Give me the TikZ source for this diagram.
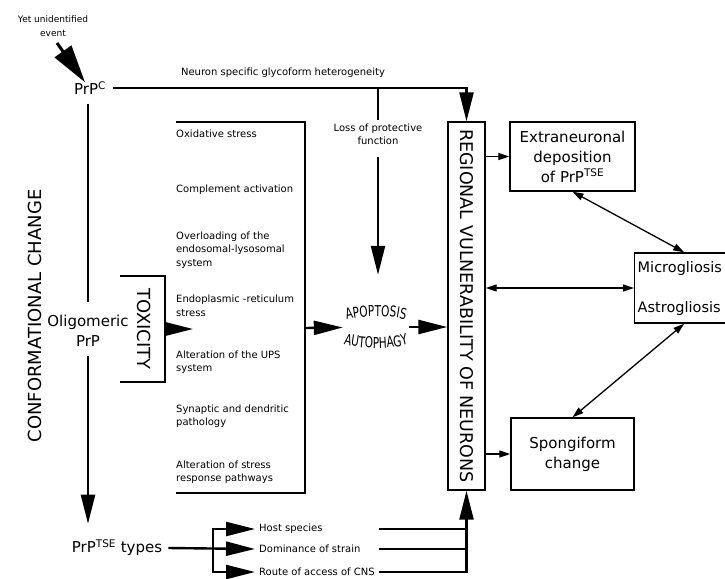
\documentclass[tikz,border=0pt]{standalone}
\usepackage{graphicx}
\usepackage{fontspec}
\setmainfont{DejaVu Sans}
\newfontfamily\narrowfont[FakeStretch=0.7]{DejaVu Sans}
\usetikzlibrary{arrows.meta,calc,decorations.text}

\begin{document}
\begin{tikzpicture}[x=1pt,y=-1pt,
	line/.style={line width=2.4pt},
	arr/.style={line width=2.4pt,-{Triangle[length=29pt,width=14pt]}},
	thin arr/.style={line width=1.3pt,-{Triangle[length=11pt,width=7pt]}},
	both arr/.style={line width=1.3pt,{Triangle[length=11pt,width=7pt]}-{Triangle[length=11pt,width=7pt]}},
	box/.style={draw,line width=1.4pt,align=center,font=\fontsize{15}{20}\selectfont},
	big/.style={font=\fontsize{15}{20}\selectfont,align=center},
	small/.style={font=\fontsize{10}{13.5}\selectfont,align=left,anchor=west,inner sep=0pt}]
	\clip (0,0) rectangle (725,578);

	% left column
	\node[font=\fontsize{9}{14}\selectfont,align=center] (ev) at (53,26) {Yet unidentified\\event};
	\node[big,inner sep=7pt] (prpc) at (90,88) {PrP\textsuperscript{C}};
	\node[big] (olig) at (88,331) {Oligomeric\\PrP};
	\node[big,inner sep=6pt] (tse) at (117,548) {PrP\textsuperscript{TSE} types};
	\node[font=\fontsize{18}{18}\selectfont] (conf) at (35,316) {\rotatebox{90}{CONFORMATIONAL CHANGE}};

	\draw[line width=3pt,-{Triangle[length=38pt,width=20pt]}] ([xshift=4pt,yshift=-3pt]ev.south) -- ([xshift=-5pt,yshift=-8pt]prpc.north);
	\draw[line,shorten <=2pt,shorten >=10pt] (olig.north |- prpc.south) -- (olig.north);
	\draw[arr,shorten <=6pt,shorten >=10pt] (olig.south) -- (olig.south |- tse.north);

	% toxicity
	\node[font=\fontsize{18}{18}\selectfont] (toxt) at (144,329) {\rotatebox{-90}{TOXICITY}};
	\draw[line] (120,276) -| (165,382) -- (120,382);
	\coordinate (tox) at (165,329);
	\coordinate (toxend) at (193,329);
	\draw[arr] (tox) -- (toxend);

	% mechanisms
	\node[small] (ox) at (176,134) {Oxidative stress};
	\node[small] (comp) at (176,190) {Complement activation};
	\node[small] (over) at (176,250) {Overloading of the\\endosomal-lysosomal\\system};
	\node[small] (er) at (176,306) {Endoplasmic -reticulum\\stress};
	\node[small] (ups) at (176,362) {Alteration of the UPS\\system};
	\node[small] (syn) at (176,416) {Synaptic and dendritic\\pathology};
	\node[small] (resp) at (176,472) {Alteration of stress\\response pathways};
	\draw[line] (176,122) -| (305,493) -- (176,493);
	\coordinate (fac) at (305,328);

	% apoptosis / autophagy
	\node[minimum width=66pt,minimum height=44pt] (apo) at (376,327) {};
	\path[decorate,decoration={text along path,text align=center,
		text={|\narrowfont\fontsize{15}{15}\selectfont|APOPTOSIS}}]
		([xshift=-6pt,yshift=4pt]apo.west) .. controls +(20pt,9pt) and +(-20pt,9pt) .. ([xshift=6pt,yshift=4pt]apo.east);
	\path[decorate,decoration={text along path,text align=center,
		text={|\narrowfont\fontsize{15}{15}\selectfont|AUTOPHAGY}}]
		([xshift=-6pt,yshift=-15pt]apo.west) .. controls +(20pt,-8pt) and +(-20pt,-8pt) .. ([xshift=6pt,yshift=-15pt]apo.east);
	\draw[arr] (fac) -- (apo);

	% regional vulnerability
	\node[draw,line width=1.4pt,minimum width=37pt,minimum height=368pt,inner sep=0pt,
		font=\fontsize{17.5}{17.5}\selectfont] (reg) at (466.5,306) {\rotatebox{-90}{REGIONAL VULNERABILITY OF NEURONS}};
	\node[font=\fontsize{10}{12}\selectfont] (glyco) at (283,73) {Neuron specific glycoform heterogeneity};
	\node[font=\fontsize{10}{13}\selectfont,align=center] (loss) at (378,134) {Loss of protective\\function};
	\draw[arr] (prpc.east) -| (reg.north);
	\draw[line] (loss.north |- prpc.east) -- (loss.north);
	\draw[arr,shorten <=9pt,shorten >=30pt] (loss.south) -- (loss.south |- apo.north);
	\draw[arr] (apo.east) -- (apo.east -| reg.west);

	% outcomes
	\node[box,minimum height=70pt,anchor=west,align=left,text width=95pt,inner sep=3pt,
		font=\fontsize{14.5}{20}\selectfont] (micro) at (634,288) {Microgliosis\\[20pt]Astrogliosis};
	\node[box,minimum width=125pt,minimum height=69pt,inner sep=2pt] (ext) at (572.5,156.5) {Extraneuronal\\deposition\\of PrP\textsuperscript{TSE}};
	\node[box,minimum width=123pt,minimum height=72pt] (spong) at (572.5,454) {Spongiform\\change};
	\draw[thin arr] (reg.east |- ext.west) -- (ext.west);
	\draw[both arr] (reg.east |- micro.west) -- (micro.west);
	\draw[thin arr] (reg.east |- spong.west) -- (spong.west);
	\draw[both arr] (ext.south) -- ([xshift=-1pt]micro.north);
	\draw[both arr] ([xshift=-1pt]micro.south) -- (spong.north);

	% strain factors
	\node[small,inner sep=4pt] (host) at (255,529) {Host species};
	\node[small,inner sep=4pt] (dom) at (255,549) {Dominance of strain};
	\node[small,inner sep=4pt] (route) at (255,572) {Route of access of CNS};
	\coordinate (br) at (213,549);
	\draw[arr] (tse.east) -- (dom.west);
	\draw[arr] (br) |- (host.west);
	\draw[arr] (br) |- (route.west);
	\draw[line] (route.east |- host) -- (host -| reg.south);
	\draw[line] (route.east |- dom) -- (dom -| reg.south);
	\draw[arr] (route.east) -| (reg.south);
\end{tikzpicture}
\end{document}
